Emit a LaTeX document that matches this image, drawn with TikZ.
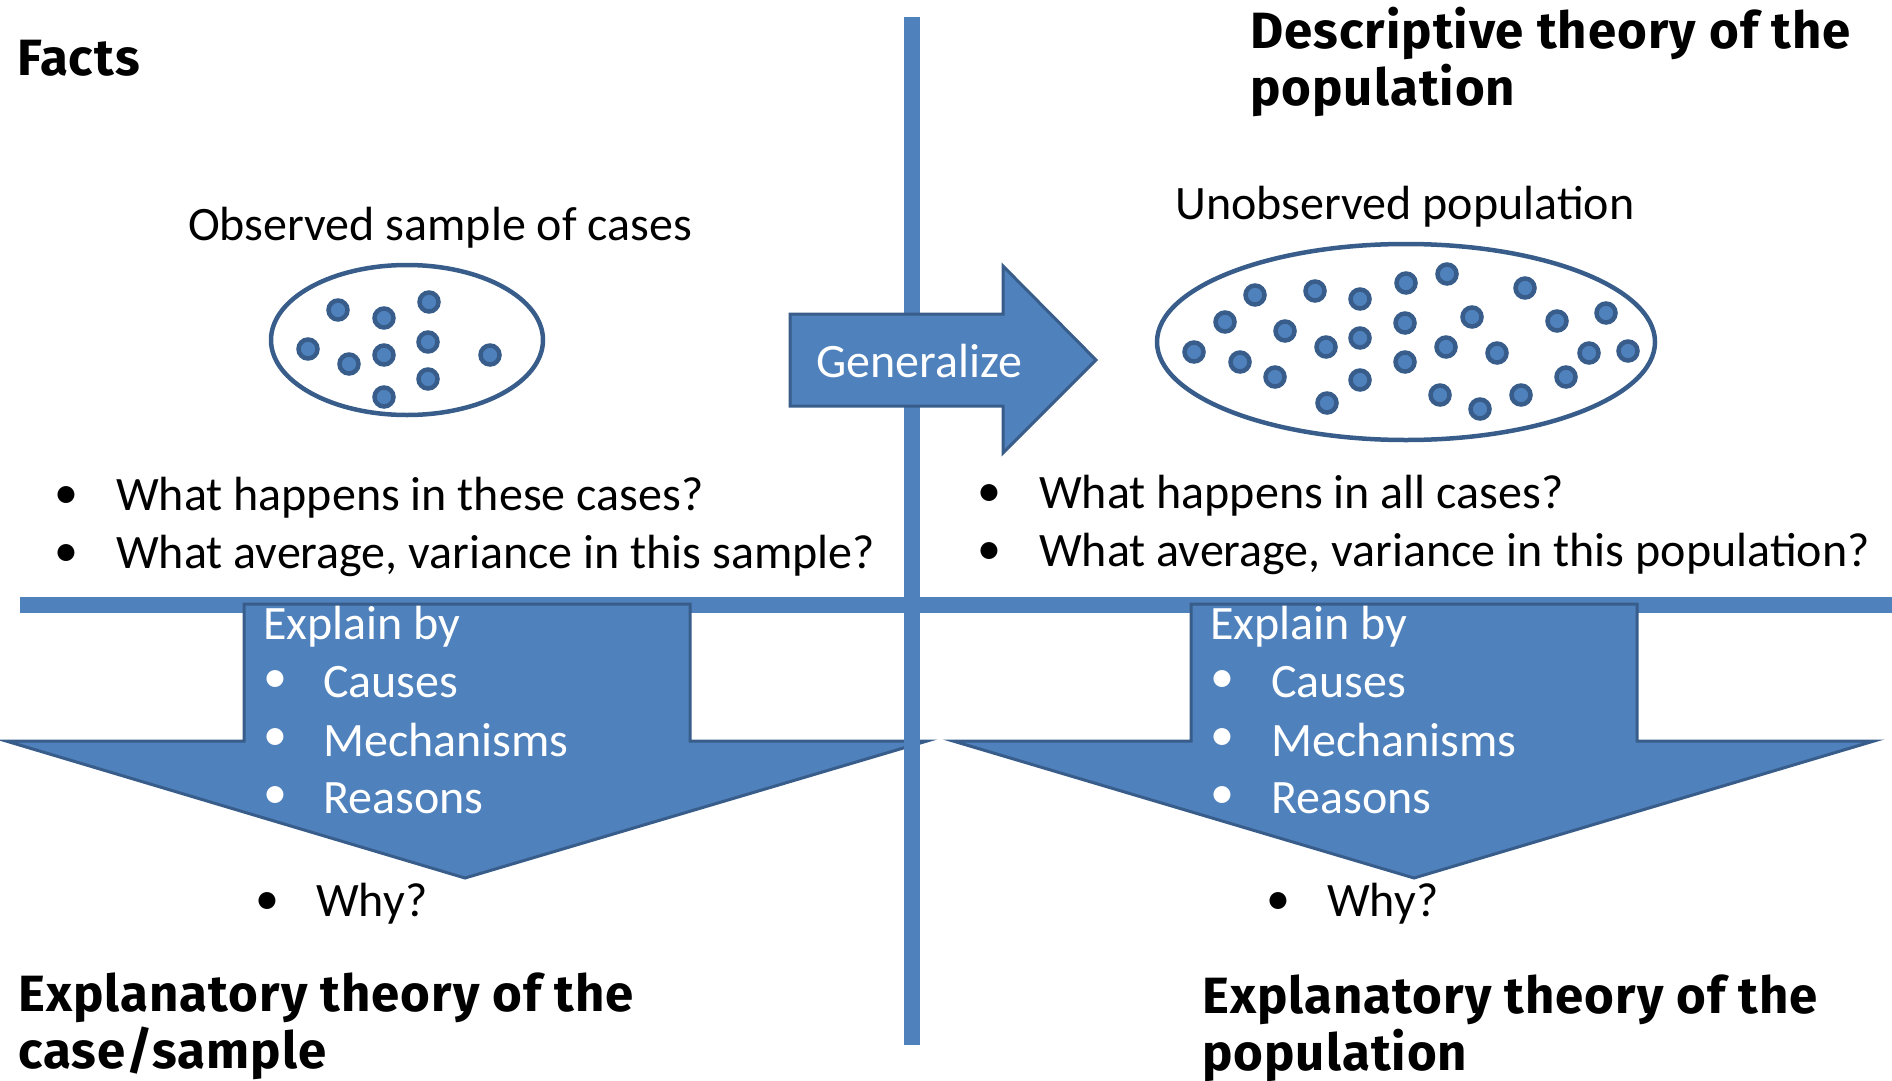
\documentclass[tikz,border=0pt]{standalone}
\usepackage{fontspec}
\setmainfont{Carlito}
\newfontfamily\headfont{Fira Sans}[LetterSpace=2]
\usetikzlibrary{shapes.geometric}
\definecolor{lineblue}{HTML}{4F81BD}
\definecolor{edgeblue}{HTML}{385D8A}
\begin{document}
\begin{tikzpicture}[x=1pt,y=-1pt,
  body/.style={font=\fontsize{48}{56}\selectfont, inner sep=0pt, anchor=west},
  wbody/.style={body, text=white},
  head/.style={font=\headfont\bfseries\fontsize{51}{57}\selectfont, inner sep=0pt, anchor=west, align=left},
  dot/.style={circle, fill=lineblue, draw=edgeblue, line width=4.5pt, minimum size=19pt, inner sep=0pt},
  arrowshape/.style={fill=lineblue, draw=edgeblue, line width=3pt, miter limit=20},
  sepline/.style={draw=lineblue, line width=16pt},
  blob/.style={draw=edgeblue, ellipse, line width=4.5pt, inner sep=0pt}]
\useasboundingbox (0,0) rectangle (1892,1081);

% horizontal separator
\coordinate (hl) at (20,605);
\coordinate (hr) at (1892,605);
\draw[sepline] (hl) -- (hr);

% down arrows
\draw[arrowshape] (244,604) -- (690,604) -- (690,741) -- (927,741) -- (465,878) -- (6,741) -- (244,741) -- cycle;
\draw[arrowshape] (1191,604) -- (1637,604) -- (1637,741) -- (1874,741) -- (1414,878) -- (953,741) -- (1191,741) -- cycle;

% vertical separator
\coordinate (vt) at (912,17);
\coordinate (vb) at (912,1045);
\draw[sepline] (vt) -- (vb);

% generalize arrow
\draw[arrowshape] (790,314) -- (1003,314) -- (1003,266) -- (1096,360) -- (1003,453) -- (1003,406) -- (790,406) -- cycle;
\node[body, anchor=center, text=white] (gen) at (919,361) {Generalize};

% headings
\node[head] (facts) at (17,58) {Facts};
\node[head] (desc) at (1250,62) {Descriptive theory of the\\population};
\node[head] (expl1) at (18,1026) {Explanatory theory of the\\case/sample};
\node[head] (expl2) at (1202,1028) {Explanatory theory of the\\population};

% ellipses
\node[body, anchor=center] (obs) at (440,228) {Observed sample of cases};
\node[blob, minimum width=272pt, minimum height=150pt] (sample) at (407,340) {};
\foreach \x/\y [count=\i] in {338/310,384/318,429/302,308/349,349/364,384/355,428/342,490/355,428/379,384/397}
  \node[dot] (s\i) at (\x,\y) {};

\node[body, anchor=center] (unobs) at (1405,207) {Unobserved population};
\node[blob, minimum width=498pt, minimum height=196pt] (pop) at (1406,342) {};
\foreach \x/\y [count=\i] in {1255/295,1315/291,1360/299,1406/283,1447/274,1525/288,1225/322,1285/331,1360/338,1405/323,1472/317,1557/321,1606/313,1194/352,1240/362,1326/347,1405/362,1446/347,1497/353,1589/353,1628/351,1275/377,1360/380,1566/377,1327/403,1440/395,1480/409,1521/395}
  \node[dot] (p\i) at (\x,\y) {};

% question bullets
\node[body] (lb1) at (54,498) {•};
\node[body] (lq1) at (116,498) {What happens in these cases?};
\node[body] (lb2) at (54,556) {•};
\node[body] (lq2) at (116,556) {What average, variance in this sample?};
\node[body] (rb1) at (977,496) {•};
\node[body] (rq1) at (1039,496) {What happens in all cases?};
\node[body] (rb2) at (977,554) {•};
\node[body] (rq2) at (1039,554) {What average, variance in this population?};

% explain by (left)
\node[wbody] (le) at (263,627) {Explain by};
\node[wbody] (leb1) at (263,682) {•};
\node[wbody] (let1) at (323,682) {Causes};
\node[wbody] (leb2) at (263,740) {•};
\node[wbody] (let2) at (323,740) {Mechanisms};
\node[wbody] (leb3) at (263,798) {•};
\node[wbody] (let3) at (323,798) {Reasons};

% explain by (right)
\node[wbody] (re) at (1210,627) {Explain by};
\node[wbody] (reb1) at (1210,682) {•};
\node[wbody] (ret1) at (1271,682) {Causes};
\node[wbody] (reb2) at (1210,740) {•};
\node[wbody] (ret2) at (1271,740) {Mechanisms};
\node[wbody] (reb3) at (1210,798) {•};
\node[wbody] (ret3) at (1271,798) {Reasons};

% why
\node[body] (lwb) at (255,904) {•};
\node[body] (lw) at (316,904) {Why?};
\node[body] (rwb) at (1266,904) {•};
\node[body] (rw) at (1327,904) {Why?};
\end{tikzpicture}
\end{document}
